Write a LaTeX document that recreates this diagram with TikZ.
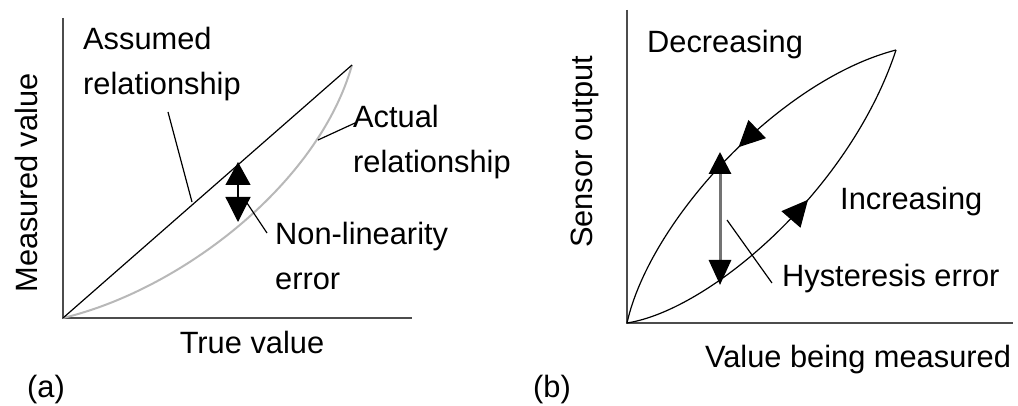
\documentclass[tikz,border=0pt]{standalone}
\usepackage{fontspec}
\setmainfont{Liberation Sans}
\usetikzlibrary{arrows.meta,decorations.markings}
\begin{document}
\begin{tikzpicture}[x=1pt,y=-1pt,
  lbl/.style={inner sep=0pt,anchor=base west,font=\fontsize{30.8}{36}\selectfont},
  axis/.style={draw=black!70,line width=2.2pt},
  curve/.style={draw=black,line width=1.2pt},
  leader/.style={draw=black,line width=1.2pt},
  midarrow/.style={postaction={decorate},decoration={markings,
     mark=at position #1 with {\arrow{Triangle[length=26pt,width=25pt]}}}}]
\useasboundingbox (0,0) rectangle (1018,406);

% ---------- panel (a) ----------
\coordinate (oa) at (63,318);
\coordinate (ya) at (63,18);
\coordinate (xa) at (412,318);
\coordinate (ea) at (352,65);
\draw[axis] (ya) -- (oa) -- (xa);
\draw[draw=black!28,line width=2pt] (oa) .. controls (180,290) and (318,185) .. (ea);
\draw[curve] (oa) -- (ea);

\node[lbl] (ass1) at (83,50) {Assumed};
\node[lbl] (ass2) at (83,95) {relationship};
\node[lbl] (act1) at (353,128) {Actual};
\node[lbl] (act2) at (353,173) {relationship};
\node[lbl] (non1) at (275,245) {Non-linearity};
\node[lbl] (non2) at (275,290) {error};
\node[lbl,anchor=base] (tv) at (252,353) {True value};
\node[lbl,anchor=base,rotate=90] (mv) at (37,183) {Measured value};
\node[lbl] (la) at (27,397) {(a)};

\coordinate (assS) at (168,112);
\coordinate (assE) at (192,202);
\draw[leader] (assS) -- (assE);
\coordinate (actS) at (318,140);
\coordinate (actE) at (355,123);
\draw[leader] (actS) -- (actE);
\coordinate (nonS) at (247,203);
\coordinate (nonE) at (267,233);
\draw[leader] (nonS) -- (nonE);

\coordinate (nlT) at (238,162);
\coordinate (nlB) at (238,222);
\draw[line width=1.2pt,{Triangle[length=23pt,width=25pt]}-{Triangle[length=25pt,width=25pt]}] (nlT) -- (nlB);

% ---------- panel (b) ----------
\coordinate (ob) at (627,323);
\coordinate (yb) at (627,10);
\coordinate (xb) at (1013,323);
\coordinate (eb) at (896,50);
\draw[axis] (yb) -- (ob) -- (xb);
\draw[curve,midarrow=0.47] (eb) .. controls (780,80) and (650,220) .. (ob);
\draw[curve,midarrow=0.56] (ob) .. controls (710,310) and (850,190) .. (eb);

\node[lbl] (dec) at (647,53) {Decreasing};
\node[lbl] (inc) at (840,210) {Increasing};
\node[lbl] (hys) at (782,287) {Hysteresis error};
\node[lbl,anchor=base] (vbm) at (858,367) {Value being measured};
\node[lbl,anchor=base,rotate=90] (so) at (592,152) {Sensor output};
\node[lbl] (lb) at (533,397) {(b)};

\coordinate (hT) at (720,152);
\coordinate (hB) at (720,285);
\draw[draw=black!55,line width=3pt,{Triangle[length=22pt,width=22pt,fill=black,color=black]}-{Triangle[length=25pt,width=22pt,fill=black,color=black]}] (hT) -- (hB);
\coordinate (hysS) at (727,220);
\coordinate (hysE) at (772,283);
\draw[leader] (hysS) -- (hysE);
\end{tikzpicture}
\end{document}
